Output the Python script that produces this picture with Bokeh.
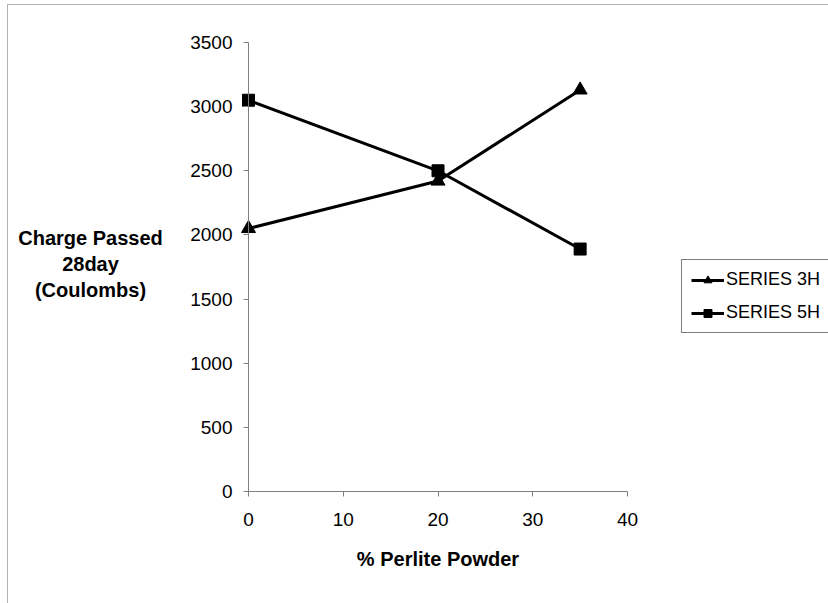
from bokeh.plotting import figure
from bokeh.models import (Range1d, Legend, LegendItem, Label, BoxAnnotation,
                          FixedTicker, LinearAxis)
from bokeh.embed import file_html
from bokeh.resources import INLINE

# Rapid chloride permeability, charge passed at 28 days
perlite_pct = [0, 20, 35]
series_3h = [2050, 2420, 3130]
series_5h = [3050, 2500, 1890]
x_ticks = [0, 10, 20, 30, 40]
y_ticks = [0, 500, 1000, 1500, 2000, 2500, 3000, 3500]

FONT = "Liberation Sans"
W, H = 828, 603
# pixel box of the plotting area inside the canvas
PX_L, PX_R, PX_T, PX_B = 248, 627, 42, 491
X0, X1, Y0, Y1 = 0, 40, 0, 3500

# the frame fills the whole canvas so markers and notes are never clipped;
# ranges are stretched so that the data box lands on the pixel box above
kx = (PX_R - PX_L) / (X1 - X0)
ky = (PX_B - PX_T) / (Y1 - Y0)
x_range = Range1d(X0 - PX_L / kx, X1 + (W - PX_R) / kx)
y_range = Range1d(Y0 - (H - PX_B) / ky, Y1 + PX_T / ky)

p = figure(width=W, height=H, output_backend="svg", toolbar_location=None,
           x_range=x_range, y_range=y_range,
           x_axis_location=None, y_axis_location=None,
           min_border=0)
p.outline_line_color = None
p.grid.grid_line_color = None
p.background_fill_color = "white"
p.border_fill_color = "white"

xaxis = LinearAxis(fixed_location=Y0, bounds=(X0, X1),
                   ticker=FixedTicker(ticks=x_ticks))
yaxis = LinearAxis(fixed_location=X0, bounds=(Y0, Y1),
                   ticker=FixedTicker(ticks=y_ticks))
p.add_layout(xaxis, "below")
p.add_layout(yaxis, "left")

for ax in (xaxis, yaxis):
    ax.axis_line_color = "#808080"
    ax.major_tick_line_color = "#808080"
    ax.minor_tick_line_color = None
    ax.major_tick_in = 0
    ax.major_tick_out = 5
    ax.major_label_text_font = FONT
    ax.major_label_text_font_size = "19px"
    ax.major_label_text_color = "black"

xaxis.major_label_standoff = 16
yaxis.major_label_standoff = 11

xaxis.axis_label = "% Perlite Powder"
xaxis.axis_label_text_font = FONT
xaxis.axis_label_text_font_size = "20px"
xaxis.axis_label_text_font_style = "bold"
xaxis.axis_label_text_color = "black"
xaxis.axis_label_standoff = 19

# horizontal y-axis title, three centred lines left of the tick labels
for i, line in enumerate(["Charge Passed", "28day", "(Coulombs)"]):
    p.add_layout(Label(x=90, y=H - 237 - 26 * i, x_units="screen", y_units="screen",
                       text=line, text_font=FONT, text_font_size="20px",
                       text_font_style="bold", text_align="center",
                       text_baseline="middle", text_color="black"))

r3_line = p.line(perlite_pct, series_3h, line_color="black", line_width=3)
r3_pts = p.scatter(perlite_pct, series_3h, marker="triangle", size=14,
                   fill_color="black", line_color="black")
r5_line = p.line(perlite_pct, series_5h, line_color="black", line_width=3)
r5_pts = p.scatter(perlite_pct, series_5h, marker="square", size=12,
                   fill_color="black", line_color="black")

legend = Legend(items=[LegendItem(label="SERIES 3H", renderers=[r3_line, r3_pts]),
                       LegendItem(label="SERIES 5H", renderers=[r5_line, r5_pts])],
                location=(681, H - 333), orientation="vertical",
                border_line_color="black", border_line_width=1,
                background_fill_alpha=1, background_fill_color="white",
                label_text_font=FONT, label_text_font_size="18px",
                label_text_color="black", glyph_width=33, glyph_height=20,
                label_standoff=2, spacing=12, padding=9, margin=0)
p.add_layout(legend, "center")

# outer chart-area border (top and left edges visible)
p.add_layout(BoxAnnotation(left=7, right=W + 10, top=H - 4, bottom=-10,
                           left_units="screen", right_units="screen",
                           top_units="screen", bottom_units="screen",
                           fill_alpha=0, line_color="black", line_width=1))

open("out.html", "w").write(file_html(p, INLINE))
